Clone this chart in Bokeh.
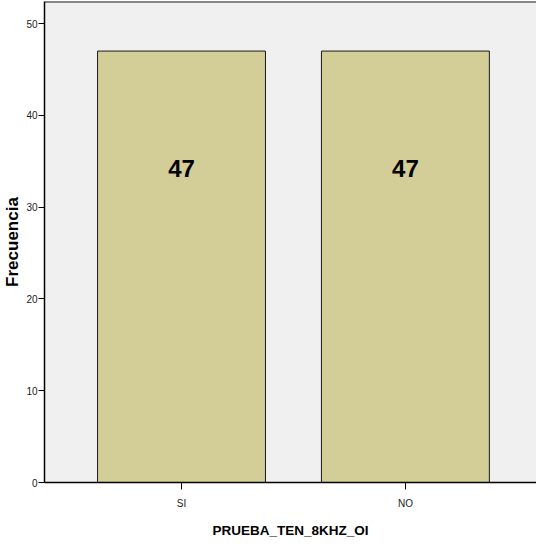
from bokeh.plotting import figure
from bokeh.models import Range1d, FixedTicker, Span, ColumnDataSource
from bokeh.core.properties import value
from bokeh.embed import file_html
from bokeh.resources import INLINE

categories = ["SI", "NO"]
counts = [47, 47]
y_ticks = [0, 10, 20, 30, 40, 50]
x_title = "PRUEBA_TEN_8KHZ_OI"
y_title = "Frecuencia"

xs = list(range(1, len(categories) + 1))
labels = [str(c) for c in counts]
src = ColumnDataSource(dict(x=xs, top=counts, ly=[c * 0.728 for c in counts], lab=labels))

p = figure(width=536, height=540, output_backend="svg", toolbar_location=None,
           x_range=Range1d(0.388, 2.5855), y_range=Range1d(0, 52.4),
           min_border_left=35, min_border_right=0, min_border_top=1, min_border_bottom=55)
p.background_fill_color = "#F0F0F0"
p.border_fill_color = "white"
p.outline_line_color = None
p.xgrid.visible = False
p.ygrid.visible = False

p.vbar(x="x", top="top", bottom=0, width=0.75, source=src,
       fill_color="#D3CE97", line_color="#1a1a1a", line_width=1)
p.text(x="x", y="ly", text="lab", source=src, text_align="center", text_baseline="middle",
       text_font=value("Liberation Sans"), text_font_style="bold", text_font_size="24px",
       text_color="black")

p.add_layout(Span(location=52.4, dimension="width", line_color="#1a1a1a", line_width=2))

font = "Liberation Sans"
p.xaxis.ticker = FixedTicker(ticks=xs)
p.xaxis.major_label_overrides = {x: c for x, c in zip(xs, categories)}
p.yaxis.ticker = FixedTicker(ticks=y_ticks)
for ax in (p.xaxis[0], p.yaxis[0]):
    ax.axis_line_color = "black"
    ax.axis_line_width = 1.5
    ax.major_tick_line_color = "black"
    ax.major_tick_in = 0
    ax.minor_tick_line_color = None
    ax.major_label_text_font = font
    ax.major_label_text_font_size = "10px"
    ax.major_label_text_color = "#222222"
    ax.axis_label_text_font = font
    ax.axis_label_text_font_style = "bold"
    ax.axis_label_text_color = "black"
p.xaxis.major_tick_out = 7
p.yaxis.major_tick_out = 6
p.xaxis.major_label_standoff = 8
p.yaxis.major_label_standoff = 1
p.xaxis.axis_label = x_title
p.yaxis.axis_label = y_title
p.xaxis.axis_label_text_font_size = "13.5px"
p.xaxis.axis_label_standoff = 11
p.yaxis.axis_label_text_font_size = "17px"
p.yaxis.axis_label_standoff = 1

open("out.html", "w").write(file_html(p, INLINE))
